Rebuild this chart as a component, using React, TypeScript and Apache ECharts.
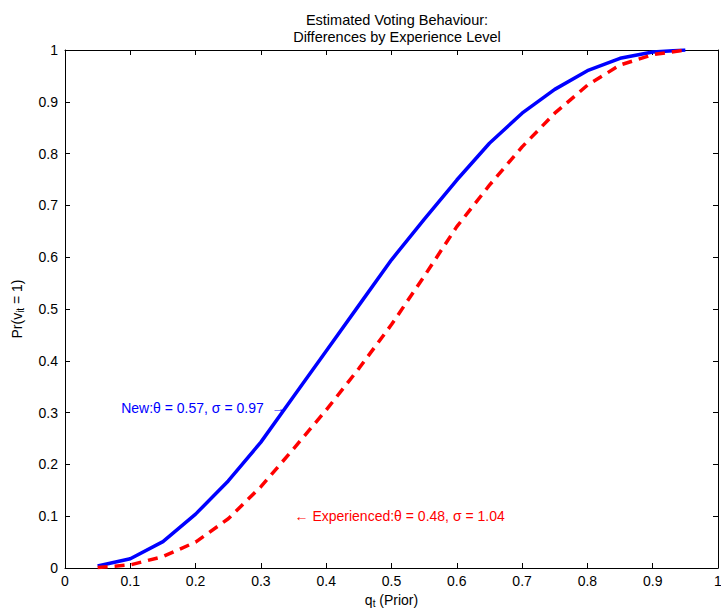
import React, { useEffect, useRef } from "react";
import * as echarts from "echarts";

const priorValues = [0.05, 0.1, 0.15, 0.2, 0.25, 0.3, 0.35, 0.4, 0.45, 0.5, 0.55, 0.6, 0.65, 0.7, 0.75, 0.8, 0.85, 0.9, 0.95];
const newVoters = [0.004, 0.018, 0.051, 0.104, 0.168, 0.243, 0.331, 0.419, 0.507, 0.595, 0.673, 0.749, 0.82, 0.878, 0.924, 0.96, 0.984, 0.996, 1.0];
const experiencedVoters = [0.001, 0.006, 0.022, 0.05, 0.095, 0.157, 0.23, 0.305, 0.385, 0.47, 0.563, 0.659, 0.739, 0.813, 0.878, 0.932, 0.971, 0.991, 1.0];
const titleLines = ["Estimated Voting Behaviour:", "Differences by Experience Level"];
const newLabel = "New:θ = 0.57, σ = 0.97  →";
const expLabel = "← Experienced:θ = 0.48, σ = 1.04";
const newLabelAt = [0.0853, 0.309];
const expLabelAt = [0.3507, 0.1004];

const FONT = "Liberation Sans, Arial, Helvetica, sans-serif";
const fmt = (v: number) => String(+v.toFixed(1));

export default function App() {
  const ref = useRef<HTMLDivElement>(null);
  useEffect(() => {
    if (!ref.current) return;
    const chart = echarts.init(ref.current, undefined, { renderer: "svg" });
    const axisCommon = {
      type: "value" as const,
      min: 0,
      max: 1,
      interval: 0.1,
      axisLine: { show: true, onZero: false, lineStyle: { color: "#000", width: 1 } },
      axisTick: { show: true, inside: true, length: 5, lineStyle: { color: "#000" } },
      splitLine: { show: false },
    };
    const nameRich = {
      m: { fontSize: 14, color: "#000", fontFamily: FONT },
      s: { fontSize: 10, color: "#000", fontFamily: FONT, verticalAlign: "bottom", padding: [7, 0, 0, 0] },
    };
    const annotation = (name: string, at: number[], text: string, color: string) => ({
      type: "scatter",
      name,
      data: [at],
      symbol: "circle",
      symbolSize: 1,
      itemStyle: { color: "rgba(0,0,0,0)" },
      silent: true,
      label: {
        show: true,
        formatter: text,
        position: "right",
        distance: 0,
        color,
        opacity: 1,
        textBorderWidth: 0,
        fontSize: 14,
        fontFamily: FONT,
      },
    });
    chart.setOption({
      animation: false,
      backgroundColor: "#fff",
      textStyle: { fontFamily: FONT },
      title: {
        text: titleLines.join("\n"),
        left: 392,
        textAlign: "center",
        top: 6,
        textStyle: { fontSize: 14.5, fontWeight: "normal", color: "#000", fontFamily: FONT, lineHeight: 17 },
      },
      grid: { left: 65, right: 3, top: 50, bottom: 40, outerBoundsMode: "none", containLabel: false },
      xAxis: [
        {
          ...axisCommon,
          position: "bottom",
          axisLabel: { color: "#000", fontSize: 14, margin: 6, fontFamily: FONT, formatter: fmt },
          name: "{m|q}{s|t}{m| (Prior)}",
          nameLocation: "middle",
          nameGap: 21,
          nameTextStyle: { rich: nameRich },
        },
        { ...axisCommon, position: "top", axisLabel: { show: false } },
      ],
      yAxis: [
        {
          ...axisCommon,
          position: "left",
          axisLabel: { color: "#000", fontSize: 14, margin: 7, fontFamily: FONT, formatter: fmt },
          name: "{m|Pr(v}{s|it}{m| = 1)}",
          nameLocation: "middle",
          nameGap: 40,
          nameTextStyle: { rich: nameRich },
        },
        { ...axisCommon, position: "right", axisLabel: { show: false } },
      ],
      series: [
        {
          type: "line",
          name: "New",
          data: priorValues.map((x, i) => [x, newVoters[i]]),
          showSymbol: false,
          symbol: "none",
          lineStyle: { color: "#0000ff", width: 3.5 },
        },
        {
          type: "line",
          name: "Experienced",
          data: priorValues.map((x, i) => [x, experiencedVoters[i]]),
          showSymbol: false,
          symbol: "none",
          lineStyle: { color: "#ff0000", width: 3.5, type: [10, 7] },
        },
        annotation("New label", newLabelAt, newLabel, "#0000ff"),
        annotation("Experienced label", expLabelAt, expLabel, "#ff0000"),
      ],
    });
    return () => chart.dispose();
  }, []);
  return <div ref={ref} style={{ position: "absolute", left: 0, top: 0, width: 721, height: 608 }} />;
}
